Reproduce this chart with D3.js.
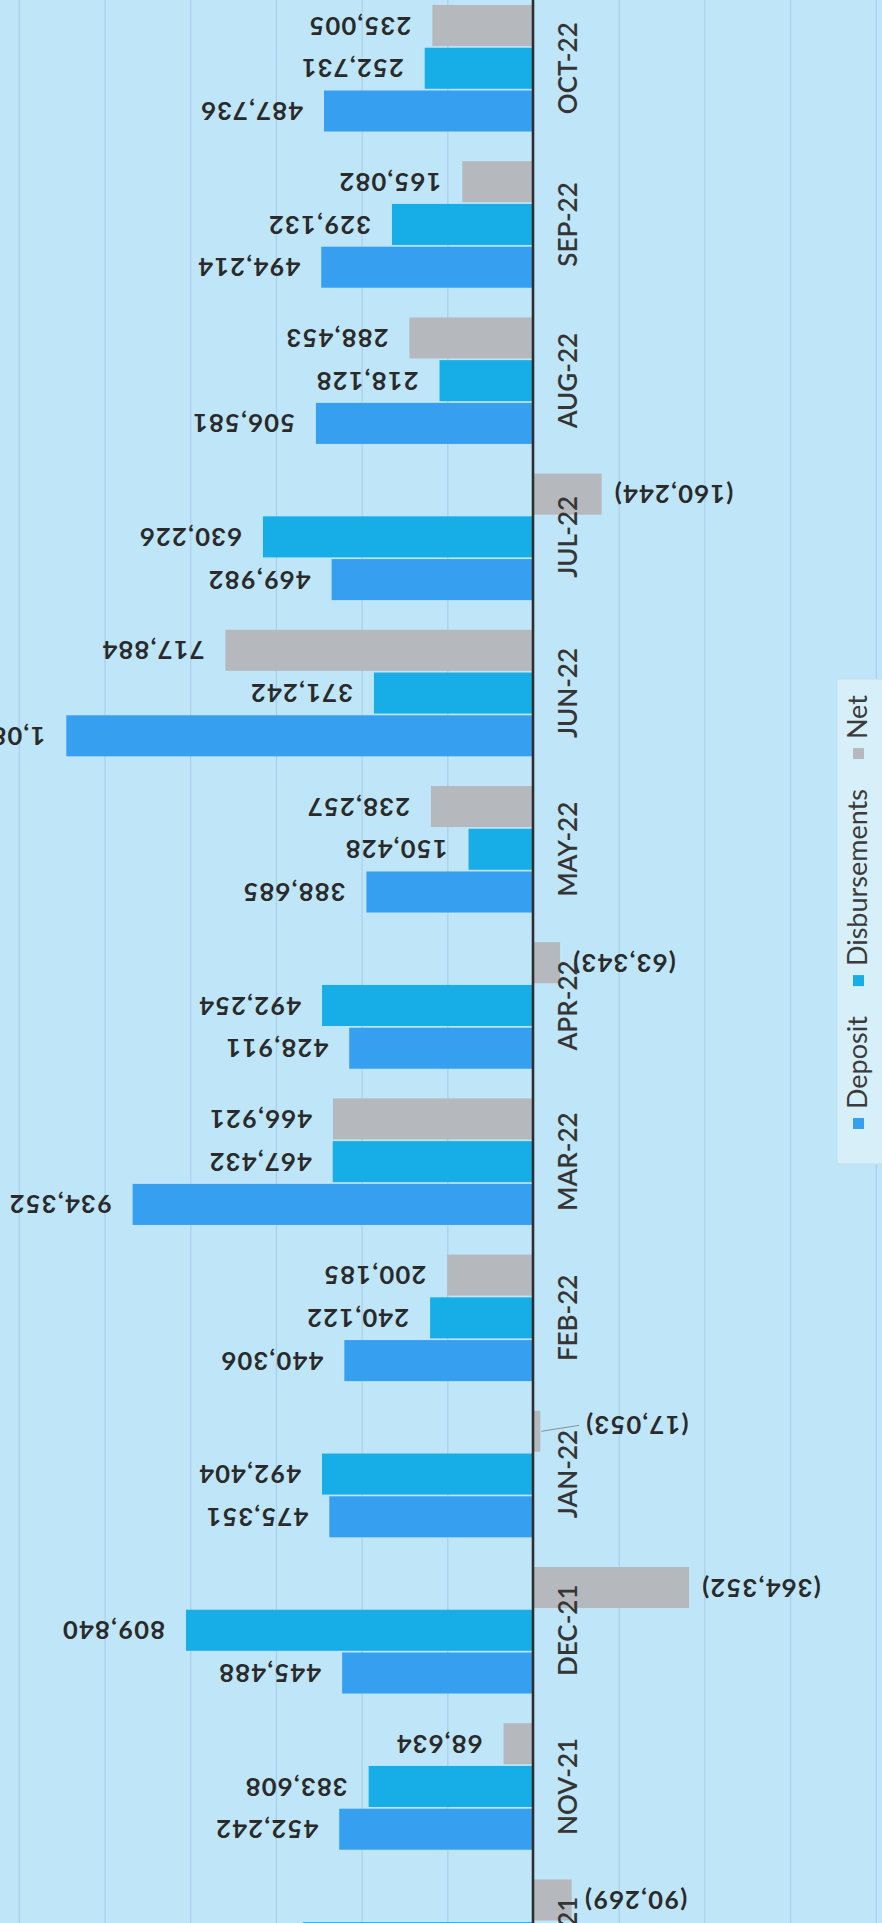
<!DOCTYPE html>
<html>
<head>
<meta charset="utf-8">
<script src="https://cdn.jsdelivr.net/npm/d3@7"></script>
<style>
  html, body { margin: 0; padding: 0; background: #bfe6f8; }
  svg { display: block; }
</style>
</head>
<body>
<svg id="chart" width="882" height="1923"></svg>
<script>
// Monthly cash flow, newest month first (the chart runs on its side, top to bottom)
const months = ["OCT-22", "SEP-22", "AUG-22", "JUL-22", "JUN-22", "MAY-22", "APR-22",
                "MAR-22", "FEB-22", "JAN-22", "DEC-21", "NOV-21", "OCT-21"];
const deposit = [487736, 494214, 506581, 469982, 1089126, 388685, 428911,
                 934352, 440306, 475351, 445488, 452242, 446731];
const disbursements = [252731, 329132, 218128, 630226, 371242, 150428, 492254,
                       467432, 240122, 492404, 809840, 383608, 537000];
const net = [235005, 165082, 288453, -160244, 717884, 238257, -63343,
             466921, 200185, -17053, -364352, 68634, -90269];
const seriesNames = ["Deposit", "Disbursements", "Net"];
const gridTicks = [-800000, -600000, -400000, -200000, 0, 200000, 400000,
                   600000, 800000, 1000000, 1200000];

const W = 882, H = 1923;
const colors = { Deposit: "#379ff0", Disbursements: "#17ade6", Net: "#b5b9bd" };
const svg = d3.select("#chart");

svg.append("rect").attr("width", W).attr("height", H).attr("fill", "#bfe6f8");

// Value axis runs right-to-left: positive amounts grow towards the left edge
const x = d3.scaleLinear().domain([0, 1000000]).range([533, 104.5]);

// Month bands down the page, series stacked inside each band
const step = 156.2, padIn = 0.19;
const y = d3.scaleBand().domain(months)
  .range([5, 5 + step * (months.length - padIn)])
  .paddingInner(padIn).paddingOuter(0);
const inner = d3.scaleBand().domain(["Net", "Disbursements", "Deposit"])
  .range([0, y.bandwidth()]).paddingInner(0.04);

// Gridlines
const grid = svg.append("g")
  .call(d3.axisTop(x).tickValues(gridTicks).tickSize(-H).tickFormat(""));
grid.select(".domain").remove();
grid.selectAll(".tick line").attr("stroke", "#a8c9ea").attr("stroke-width", 1.2)
  .attr("stroke-opacity", 0.85);
grid.selectAll(".tick").filter(d => d === 0).remove();

const rows = months.map((m, i) => ({
  month: m,
  values: { Deposit: deposit[i], Disbursements: disbursements[i], Net: net[i] }
}));

const fmt = d3.format(",");
const label = v => v < 0 ? "(" + fmt(-v) + ")" : fmt(v);

const groups = svg.append("g").selectAll("g").data(rows).join("g")
  .attr("transform", d => `translate(0,${y(d.month)})`);

const cells = groups.selectAll("g.cell")
  .data(d => seriesNames.map(s => ({ series: s, value: d.values[s] })))
  .join("g").attr("class", "cell");

cells.append("rect")
  .attr("x", d => Math.min(x(d.value), x(0)))
  .attr("width", d => Math.abs(x(d.value) - x(0)))
  .attr("y", d => inner(d.series))
  .attr("height", inner.bandwidth())
  .attr("fill", d => colors[d.series]);

// Value labels, printed upside down beyond the bar end
const small = d => Math.abs(x(d.value) - x(0)) < 15;
cells.filter(small).append("line")
  .attr("x1", d => x(d.value) + 1)
  .attr("x2", x(0) + 46)
  .attr("y1", d => inner(d.series) + inner.bandwidth() / 2)
  .attr("y2", d => inner(d.series) + inner.bandwidth() / 2 - 6)
  .attr("stroke", "#8a8f94").attr("stroke-width", 1);

cells.append("text")
  .attr("transform", d => {
    const cy = inner(d.series) + inner.bandwidth() / 2 - (small(d) ? 6 : 0);
    let px;
    if (d.value >= 0) px = x(d.value) - 21;
    else px = small(d) ? x(0) + 52 : x(d.value) + 12;
    return `translate(${px},${cy}) rotate(180)`;
  })
  .attr("text-anchor", d => d.value >= 0 ? "start" : "end")
  .attr("dy", "0.35em")
  .attr("font-family", "Lato, 'Open Sans', sans-serif")
  .attr("font-weight", 700)
  .attr("font-size", 25.5)
  .attr("letter-spacing", 1.2)
  .attr("fill", "#2a2a2a")
  .text(d => label(d.value));

// Category axis along the zero line
const yAxis = svg.append("g").attr("transform", `translate(${x(0)},0)`)
  .call(d3.axisRight(y).tickSize(0).tickPadding(0));
yAxis.select(".domain").remove();
yAxis.selectAll(".tick text")
  .attr("x", null).attr("dy", null)
  .attr("transform", `translate(35,${y.bandwidth() / 2}) rotate(-90)`)
  .attr("text-anchor", "middle")
  .attr("dy", "0.36em")
  .attr("font-family", "Lato, 'Open Sans', sans-serif")
  .attr("font-weight", 600)
  .attr("font-size", 26)
  .attr("fill", "#353535");
yAxis.selectAll(".tick").attr("transform", d => `translate(0,${y(d)})`);

svg.append("line")
  .attr("x1", x(0)).attr("x2", x(0)).attr("y1", 0).attr("y2", H)
  .attr("stroke", "#2e2e2e").attr("stroke-width", 2.6);

// Legend, reading bottom to top along the right edge
const legend = svg.append("g").attr("transform", "translate(864,1164) rotate(-90)");
const legendBox = legend.append("rect")
  .attr("x", 0).attr("y", -27).attr("height", 50)
  .attr("fill", "#d6eff9").attr("stroke", "#c3dde9").attr("stroke-width", 1);
let cursor = 35;
seriesNames.forEach(s => {
  legend.append("rect").attr("x", cursor).attr("y", -11).attr("width", 11).attr("height", 11)
    .attr("fill", colors[s]);
  const t = legend.append("text").attr("x", cursor + 20).attr("y", -6).attr("dy", "0.35em")
    .attr("font-family", "Lato, 'Open Sans', sans-serif")
    .attr("font-size", 27).attr("fill", "#3b3b3b").text(s);
  cursor += 20 + t.node().getComputedTextLength() + 30;
});
legendBox.attr("width", cursor - 14);
</script>
</body>
</html>
